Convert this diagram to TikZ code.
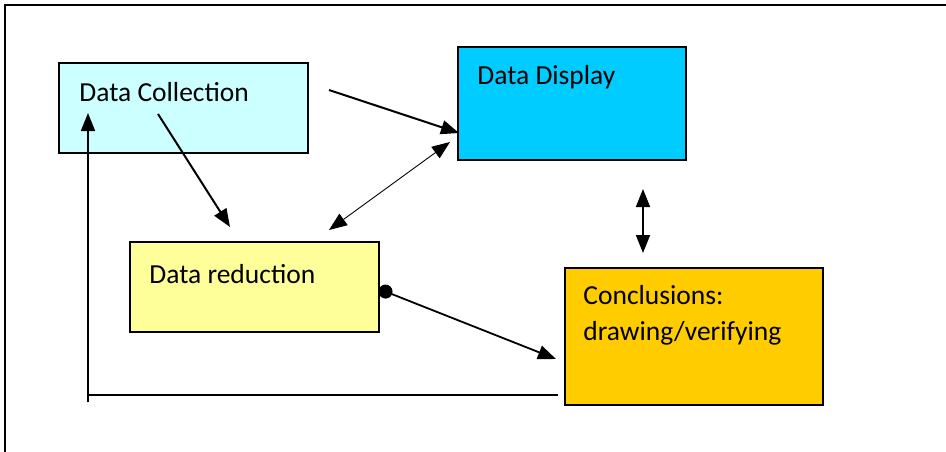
\documentclass[tikz,border=0pt]{standalone}
\usepackage{fontspec}
\setmainfont{Carlito}
\definecolor{mycyan}{RGB}{204,255,255}
\definecolor{myblue}{RGB}{0,204,255}
\definecolor{myyellow}{RGB}{255,255,153}
\definecolor{myorange}{RGB}{255,204,0}
\usetikzlibrary{arrows.meta,positioning}

\begin{document}
\begin{tikzpicture}[x=1pt,y=-1pt,
        every node/.style={font=\fontsize{27.5}{36}\selectfont},
        box/.style={draw,line width=1.5pt,rectangle,inner sep=0pt},
        txt/.style={anchor=base west,inner sep=0pt,align=left},
        arr/.style={line width=2pt,-{Triangle[length=18pt,width=14pt]}},
        darr/.style={line width=0.9pt,{Triangle[length=18pt,width=14pt]}-{Triangle[length=18pt,width=14pt]}}
        ]
        \useasboundingbox (0,0) rectangle (946,452);

        % the frame
        \draw[line width=1.5pt] (946,5) -- (5,5) -- (5,452);

        % the boxes
        \node[box,fill=mycyan,minimum width=249pt,minimum height=90pt] (coll) at (183.5,108) {};
        \node[box,fill=myblue,minimum width=228pt,minimum height=113pt] (disp) at (572,103.5) {};
        \node[box,fill=myyellow,minimum width=249pt,minimum height=90pt] (redu) at (254.5,287) {};
        \node[box,fill=myorange,minimum width=258pt,minimum height=137pt] (conc) at (694,336.5) {};

        % the texts
        \node[txt] (colltext) at ([xshift=21pt,yshift=-39pt]coll.north west) {Data Collection};
        \node[txt] (disptext) at ([xshift=20pt,yshift=-38pt]disp.north west) {Data Display};
        \node[txt] (redutext) at ([xshift=20pt,yshift=-42pt]redu.north west) {Data reduction};
        \node[txt] (conctext) at ([xshift=19pt,yshift=-73pt]conc.north west) {Conclusions:\\drawing/verifying};

        % the loose ends
        \coordinate (a1) at (329,90);
        \coordinate (a2) at (459,133);
        \coordinate (b1) at (158,114);
        \coordinate (b2) at (230,227);
        \coordinate (c1) at (329,230);
        \coordinate (c2) at (450,142);
        \coordinate (d1) at (643,189);
        \coordinate (d2) at (643,253);
        \coordinate (e1) at (379,289);
        \coordinate (e2) at (556,359);
        \coordinate (f1) at (558,395);
        \coordinate (f2) at (87,395);
        \coordinate (f3) at (88,402);
        \coordinate (f4) at (88,113);

        % the edges
        \draw[arr] (a1) -- (a2);
        \draw[arr] (b1) -- (b2);
        \draw[darr] (c1) -- (c2);
        \draw[darr,line width=1.8pt] (d1) -- (d2);
        \draw[line width=1.8pt,{Circle[length=14pt]}-{Triangle[length=18pt,width=14pt]}] (e1) -- (e2);
        \draw[line width=1.8pt] (f1) -- (f2);
        \draw[arr,line width=1.8pt] (f3) -- (f4);
\end{tikzpicture}
\end{document}
